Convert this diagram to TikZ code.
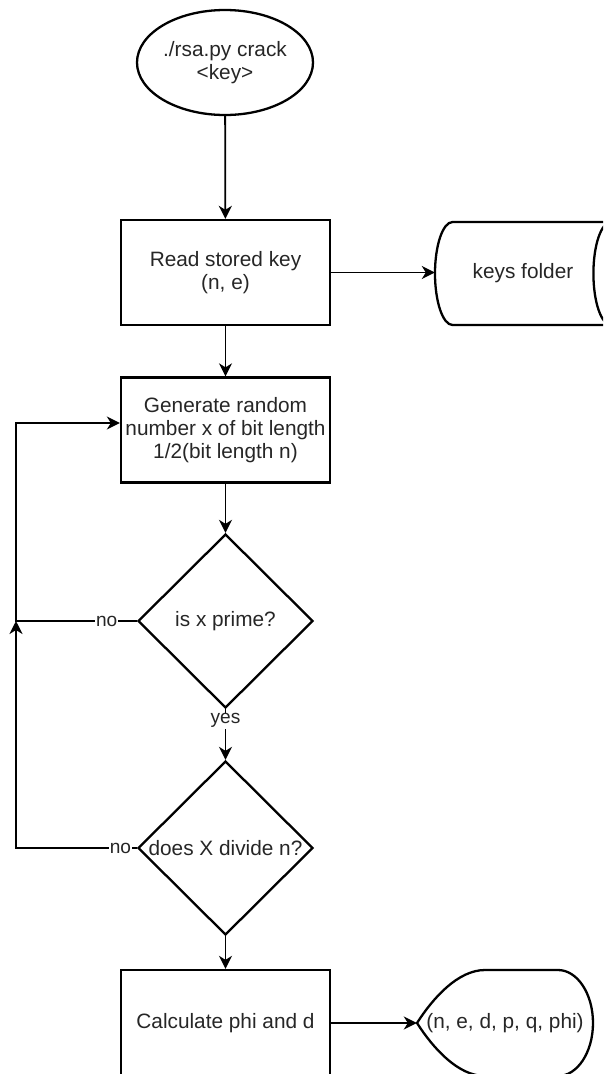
\documentclass[tikz,border=0pt]{standalone}
\usepackage{fontspec}
\setmainfont{Liberation Sans}
\usetikzlibrary{shapes.geometric, arrows.meta}

\begin{document}
\begin{tikzpicture}[x=1pt, y=-1pt,
  every node/.style={text=black!85, font=\fontsize{20.8}{23}\selectfont, align=center},
  shapeline/.style={draw=black, line width=2.3pt},
  startnode/.style={shapeline, ellipse, minimum width=176pt, minimum height=105pt, inner sep=0pt},
  procbox/.style={shapeline, rectangle, minimum width=209pt, minimum height=105pt, inner sep=0pt},
  decision/.style={shapeline, diamond, aspect=1, minimum width=175pt, minimum height=174pt, inner sep=0pt},
  plainarea/.style={rectangle, inner sep=0pt},
  flow/.style={draw=black, line width=1.8pt, -{Stealth[length=13pt,width=13pt,inset=4pt]}},
  edgelabel/.style={fill=white, inner sep=1pt, font=\fontsize{19.1}{21}\selectfont},
]
\path[use as bounding box, clip] (0,0) rectangle (603,1074);

% main column
\node[startnode] (start) at (225,62.5) {./rsa.py crack\\<key>};
\node[procbox] (read) at (225.5,272.5) {Read stored key\\(n, e)};
\node[procbox] (gen) at (225.5,430) {Generate random\\number x of bit length\\1/2(bit length n)};
\node[decision, label=center:{is x prime?}] (prime) at (225.5,621) {};
\node[decision, label=center:{does X divide n?}] (divides) at (225.5,848) {};
\node[procbox, minimum height=106pt] (calc) at (225.5,1023) {Calculate phi and d};

% stored data: keys folder
\node[plainarea, minimum width=176pt, minimum height=103pt] (keys) at (523,273.5) {keys folder};
\draw[shapeline] (452.6,222) -- (611,222)
  .. controls (601.3,222) and (593.4,245.1) .. (593.4,273.5)
  .. controls (593.4,301.9) and (601.3,325) .. (611,325)
  -- (452.6,325)
  .. controls (442.9,325) and (435,301.9) .. (435,273.5)
  .. controls (435,245.1) and (442.9,222) .. (452.6,222) -- cycle;

% display: result tuple
\node[plainarea, minimum width=176pt, minimum height=106pt] (out) at (505,1023) {(n, e, d, p, q, phi)};
\draw[shapeline] (417,1023)
  .. controls (433,998) and (458,970) .. (485,970)
  -- (558,970)
  .. controls (577.3,970) and (593,993.7) .. (593,1023)
  .. controls (593,1052.3) and (577.3,1076) .. (558,1076)
  -- (485,1076)
  .. controls (458,1076) and (433,1048) .. (417,1023) -- cycle;

% connectors
\draw[flow] (start) -- (read);
\draw[flow] (read.east) -- (read.east -| keys.west);
\draw[flow] (read) -- (gen);
\draw[flow] (gen) -- (prime);
\draw[flow] (prime) -- node[edgelabel, pos=0.23] {yes} (divides);
\draw[flow] (divides) -- (calc);
\draw[flow] (calc.east) -- (calc.east -| out.west);

% retry loops
\coordinate (j) at (16,621);
\draw[flow] (divides.west) -| node[edgelabel, pos=0.068] {no} (j);
\draw[flow] (prime.west) -- node[edgelabel, pos=0.25] {no} (j) |- ([yshift=7pt]gen.west);
\end{tikzpicture}
\end{document}
